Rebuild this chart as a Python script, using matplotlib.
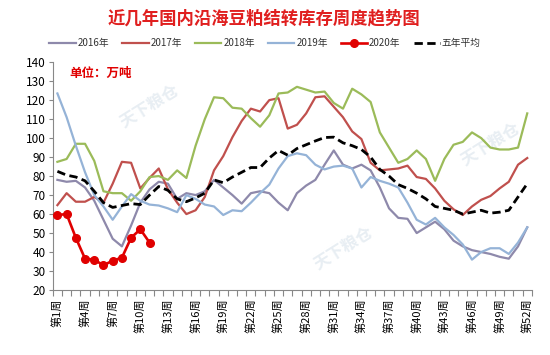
import matplotlib
matplotlib.use("Agg")
import matplotlib.pyplot as plt
import numpy as np

plt.rcParams["font.family"] = ["Noto Sans CJK SC", "DejaVu Sans"]

# ── Data (万吨, week 1..52) ────────────────────────────────────────────────────
WEEKS = np.arange(1, 53)
Y2016 = [78, 77, 77.5, 74, 67, 57, 47, 43, 54, 66, 73, 77, 76, 68, 71, 70, 72, 78, 74, 70,
         65.5, 71, 72, 71, 66, 62, 71, 75, 78, 86, 93.5, 86, 84, 86, 83, 74, 63, 58, 57.5, 50,
         53, 56, 52, 46, 43, 41, 40, 39, 37.5, 36.5, 43, 53]
Y2017 = [64.7, 71, 66.5, 66.5, 69, 66, 76, 87.5, 87, 73.5, 79, 84, 73, 66, 60, 62, 69, 83, 90.5, 100.5,
         109, 115.5, 114, 120, 121, 105, 107, 113, 121.5, 122, 116.5, 111, 103.5, 99.5, 87, 83, 83.5, 84, 85.5, 79.5,
         78.5, 73.5, 67, 62.5, 59.5, 64, 67.5, 69.5, 73.5, 77, 86, 89.5]
Y2018 = [87.5, 89, 97, 97, 88, 72, 71, 71, 67, 72, 79.5, 80, 78, 83, 79, 96, 110, 121.5, 121, 116,
         115.5, 110.5, 106, 112, 123.5, 124, 127, 125.5, 124, 124.5, 118.5, 115.5, 126, 123, 119, 103, 95, 87, 89, 93.5,
         89, 77.5, 89, 96.5, 98, 103, 100, 95, 94, 94, 95, 113]
Y2019 = [123.5, 111, 96, 82, 70, 64, 57, 64, 70.5, 67, 65, 64.5, 63, 61, 70, 68, 65, 64, 59.5, 62,
         61.5, 66, 71, 75.5, 84, 90.5, 92, 91, 86, 83.5, 85, 85.5, 84, 74, 79.5, 77.5, 76, 74, 66, 57,
         54.5, 58, 53, 49, 44, 36, 40, 42, 42, 39, 45, 53]
Y2020 = [59.5, 60, 47.5, 36.5, 36, 33, 35.5, 37, 47.5, 52, 45]
AVG5 = [82.5, 80.5, 79.5, 77.5, 72, 66, 63.5, 64.5, 65.5, 65, 70, 74.5, 72.5, 68, 66.5, 68.5, 71, 78, 76.5, 79.5,
        82, 84.5, 84.5, 89.5, 93.5, 91, 94.5, 96.5, 98.5, 100.3, 100.5, 97.5, 96, 94, 90, 83.5, 80, 75.5, 73.5, 71,
        68, 64, 63, 62, 60, 61, 62, 60.5, 61, 62, 69, 76]

LABEL_WEEKS = list(range(1, 53, 3))
LABELS = [f"第{w}周" for w in LABEL_WEEKS]

# ── Palette ────────────────────────────────────────────────────────────────────
C2016 = "#8e89ab"
C2017 = "#c0504d"
C2018 = "#9bbb59"
C2019 = "#95b3d7"
C2020 = "#e00000"
TITLE_RED = "#e01f1f"

fig = plt.figure(figsize=(5.5, 3.55), dpi=100)
ax = fig.add_axes([0.096, 0.183, 0.871, 0.642])

# faint watermarks
for wx, wy in [(11, 117), (48, 97), (32, 42)]:
    ax.text(wx, wy, "天下粮仓", fontsize=12, color="#e8eef3", rotation=32,
            ha="center", va="center", fontweight="bold", zorder=0)

lw = 1.6
ax.plot(WEEKS, Y2016, color=C2016, lw=lw, label="2016年", zorder=3)
ax.plot(WEEKS, Y2017, color=C2017, lw=lw, label="2017年", zorder=3)
ax.plot(WEEKS, Y2018, color=C2018, lw=lw, label="2018年", zorder=3)
ax.plot(WEEKS, Y2019, color=C2019, lw=lw, label="2019年", zorder=3)
ax.plot(WEEKS[:len(Y2020)], Y2020, color=C2020, lw=1.9, marker="o", markersize=5.5,
        label="2020年", zorder=5)
ax.plot(WEEKS, AVG5, color="black", lw=2.0, dashes=(3, 1.6), label="五年平均", zorder=4)

ax.set_xlim(0.5, 52.5)
ax.set_ylim(20, 140)
ax.set_yticks(np.arange(20, 141, 10))
ax.tick_params(axis="y", labelsize=8.5, length=3, width=0.8, color="#888888", pad=2)

ax.set_xticks(LABEL_WEEKS)
ax.set_xticklabels(LABELS, rotation=90, fontsize=8)
ax.set_xticks(np.arange(0.5, 53, 1), minor=True)
ax.tick_params(axis="x", which="major", length=0, pad=6)
ax.tick_params(axis="x", which="minor", length=4, width=0.8, color="#888888")

for side in ["top", "right"]:
    ax.spines[side].set_visible(False)
for side in ["left", "bottom"]:
    ax.spines[side].set_color("#888888")
    ax.spines[side].set_linewidth(0.8)

ax.text(0.035, 0.95, "单位：万吨", transform=ax.transAxes, fontsize=9,
        color=C2020, fontweight="bold", ha="left", va="center")

fig.text(0.48, 0.949, "近几年国内沿海豆粕结转库存周度趋势图", fontsize=12.5,
         color=TITLE_RED, fontweight="bold", ha="center", va="center")

fig.legend(loc="center", bbox_to_anchor=(0.482, 0.879), ncol=6, frameon=False,
           fontsize=7, handlelength=2.7, handletextpad=0.2, columnspacing=1.35,
           numpoints=1, labelcolor="#333333")

fig.savefig("out.png", dpi=100)
